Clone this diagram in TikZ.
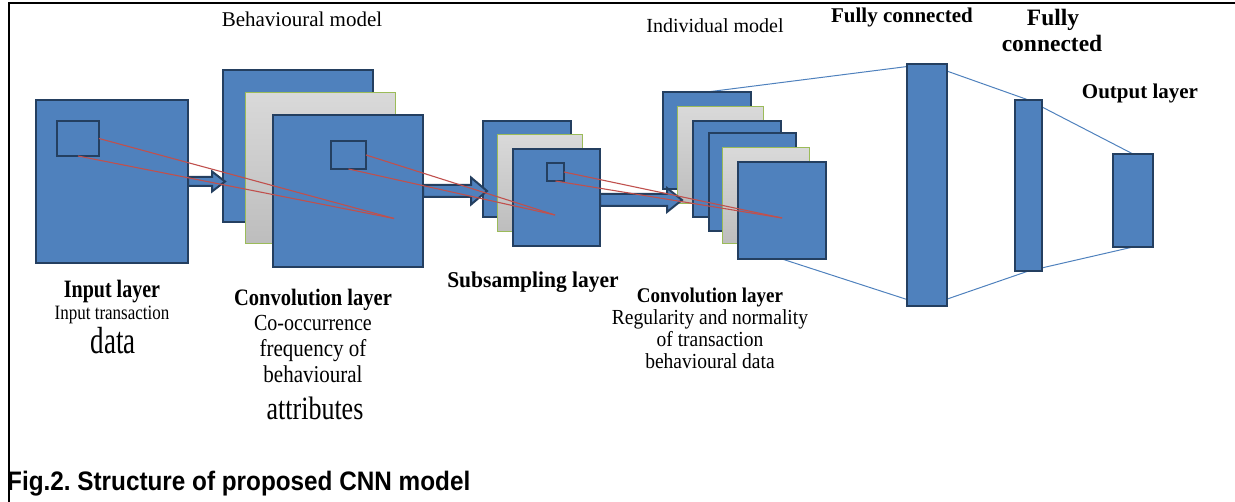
\documentclass[tikz,border=0pt]{standalone}
\usepackage{fontspec}
\usepackage{graphicx}
\setmainfont{Liberation Serif}
\newfontfamily\capfont{Liberation Sans}
\usetikzlibrary{calc}
\frenchspacing
\definecolor{cnnblue}{HTML}{4F81BD}
\definecolor{cnnedge}{HTML}{243F60}
\definecolor{grtop}{HTML}{D9D9D9}
\definecolor{grbot}{HTML}{BDBDBD}
\definecolor{gredge}{HTML}{9BBB59}
\definecolor{redline}{HTML}{C0504D}
\newcommand\fs[1]{\fontsize{#1}{#1}\selectfont}
\newcommand\tall[2]{\scalebox{1}[#1]{#2}}
% #1 style, #2 name, #3 x1, #4 y1, #5 x2, #6 y2
\newcommand\rectnode[6]{\node[#1, anchor=north west, minimum width={(#5-#3)*1pt}, minimum height={(#6-#4)*1pt}] (#2) at (#3,#4) {};}
% #1 start, #2 shaft length, #3 shaft half height, #4 head length, #5 head half height
\newcommand\blockarrow[5]{\draw[blockarr] (#1) ++(0,{-#3}) -- ++(#2,0) -- ++(0,{#3-#5}) -- ++(#4,#5) -- ++({-#4},#5) -- ++(0,{#3-#5}) -- ++({-#2},0) -- cycle;}
\tikzset{
  bluebox/.style={draw=cnnedge, fill=cnnblue, line width=2pt, inner sep=0pt, outer sep=0pt},
  smallsq/.style={draw=cnnedge, fill=cnnblue, line width=2.2pt, inner sep=0pt, outer sep=0pt},
  graybox/.style={draw=gredge, top color=grtop, bottom color=grbot, line width=1pt, inner sep=0pt, outer sep=0pt},
  blockarr/.style={draw=cnnedge, fill=cnnblue, line width=2pt, line join=miter},
  redray/.style={draw=redline, line width=1.1pt},
  fcline/.style={draw=cnnblue, line width=1pt},
  lbl/.style={anchor=base, inner sep=0pt, text=black},
  frameline/.style={draw=black, line width=2pt},
}
\begin{document}
\begin{tikzpicture}[x=1pt,y=-1pt]
\useasboundingbox (0,0) rectangle (1235,502);
% frame
\coordinate (fa) at (9,502);
\coordinate (fb) at (9,3);
\coordinate (fc) at (1235,3);
\draw[frameline] (fa) -- (fb) -- (fc);

% fully connected lines (behind boxes)
\coordinate (c2atop) at (707,92);
\coordinate (c2fbot) at (782,259);
\coordinate (fc1top) at (927,64);
\coordinate (fc1bot) at (927,306);
\coordinate (fc2top) at (1028.5,100);
\coordinate (fc2bot) at (1028.5,271);
\coordinate (outtop) at (1133,154);
\coordinate (outbot) at (1133,247);
\draw[fcline] (c2atop) -- (fc1top) -- (fc2top) -- (outtop);
\draw[fcline] (c2fbot) -- (fc1bot) -- (fc2bot) -- (outbot);

% input layer
\rectnode{bluebox}{in}{36}{100}{188}{263}
\rectnode{smallsq}{insq}{57}{121}{99}{156}

% convolution layer 1
\rectnode{bluebox}{c1a}{223}{70}{373}{222}
\rectnode{graybox}{c1b}{245}{93}{395}{244}
\rectnode{bluebox}{c1c}{273}{115}{423}{267}
\rectnode{smallsq}{c1sq}{331}{141}{366}{169}

% subsampling layer
\rectnode{bluebox}{s1a}{483}{121}{571}{217}
\rectnode{graybox}{s1b}{497}{135}{582}{232}
\rectnode{bluebox}{s1c}{513}{149}{600}{246}
\rectnode{smallsq}{s1sq}{547}{163}{564}{181}

% convolution layer 2
\rectnode{bluebox}{c2a}{663}{92}{751}{189}
\rectnode{graybox}{c2b}{677}{107}{763}{204}
\rectnode{bluebox}{c2c}{693}{121}{781}{217}
\rectnode{bluebox}{c2d}{709}{133}{796}{231}
\rectnode{graybox}{c2e}{722}{148}{809}{244}
\rectnode{bluebox}{c2f}{738}{162}{826}{259}

% fully connected and output
\rectnode{bluebox}{fc1}{907}{64}{947}{306}
\rectnode{bluebox}{fc2}{1015}{100}{1042}{271}
\rectnode{bluebox}{out}{1113}{154}{1153}{247}

% block arrows
\blockarrow{in.east}{24}{4.5}{13}{10}
\blockarrow{c1c.east}{48}{6}{16}{13.5}
\coordinate (a3s) at ($(s1c.east)+(0,2.5)$);
\blockarrow{a3s}{67}{6}{15}{12}

% red rays
\coordinate (t1) at (394,218.5);
\coordinate (t2) at (555,215);
\coordinate (t3) at (782,218);
\draw[redray] (insq.east) -- (t1);
\draw[redray] (insq.south) -- (t1);
\draw[redray] (c1sq.east) -- (t2);
\draw[redray] (c1sq.south) -- (t2);
\draw[redray] (s1sq.east) -- (t3);
\draw[redray] (s1sq.south) -- (t3);

% top labels
\node[lbl] (behav) at (302,27) {\fs{21}Behavioural model};
\node[lbl] (indiv) at (715,33) {\fs{20}Individual model};
\node[lbl] (fcl1) at (902,23) {\fs{21}\bfseries Fully connected};
\node[lbl] (fcl2a) at (1053,26) {\fs{23.5}\bfseries Fully};
\node[lbl] (fcl2b) at (1052,52) {\fs{23.5}\bfseries connected};
\node[lbl] (outl) at (1140,99) {\fs{21}\bfseries Output layer};

% input labels
\node[lbl] (inl1) at (112,298) {\tall{1.25}{\fs{20}\bfseries Input layer}};
\node[lbl] (inl2) at (112,320) {\tall{1.2}{\fs{17}Input transaction}};
\node[lbl] (inl3) at (113,354) {\tall{1.4}{\fs{27}data}};

% conv 1 labels
\node[lbl] (cl1) at (313,306) {\tall{1.15}{\fs{20.5}\bfseries Convolution layer}};
\node[lbl] (cl2) at (313,331) {\tall{1.15}{\fs{20}Co-occurrence}};
\node[lbl] (cl3) at (313,357) {\tall{1.15}{\fs{21}frequency of}};
\node[lbl] (cl4) at (313,383) {\tall{1.15}{\fs{21}behavioural}};
\node[lbl] (cl5) at (315,420) {\tall{1.25}{\fs{26}attributes}};

% subsampling label
\node[lbl] (sl) at (533,288) {\tall{1.05}{\fs{21.5}\bfseries Subsampling layer}};

% conv 2 labels
\node[lbl] (dl1) at (710,303) {\tall{1.1}{\fs{19}\bfseries Convolution layer}};
\node[lbl] (dl2) at (710,325) {\tall{1.1}{\fs{19.5}Regularity and normality}};
\node[lbl] (dl3) at (710,347) {\tall{1.1}{\fs{19.5}of transaction}};
\node[lbl] (dl4) at (710,369) {\tall{1.1}{\fs{19.5}behavioural data}};

% caption
\node[lbl, anchor=base west] (cap) at (7,491) {\tall{1.1}{\capfont\bfseries\fs{24.3}Fig.2. Structure of proposed CNN model}};
\end{tikzpicture}
\end{document}
